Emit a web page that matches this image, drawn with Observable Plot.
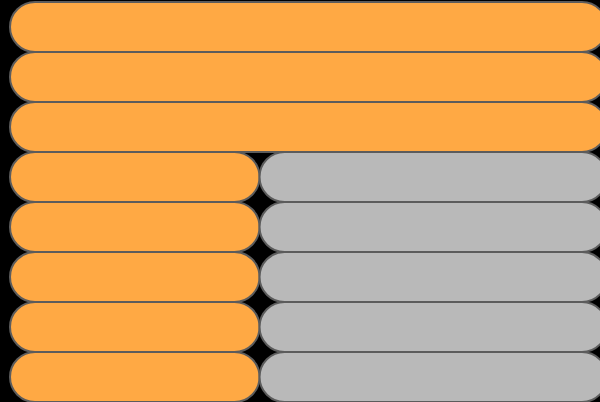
<!DOCTYPE html>
<html>
<head>
<meta charset="utf-8">
<script src="https://cdn.jsdelivr.net/npm/d3@7"></script>
<script src="https://cdn.jsdelivr.net/npm/@observablehq/plot@0.6"></script>
<style>
  html, body { margin: 0; padding: 0; background: #000; }
  #chart svg { display: block; }
</style>
</head>
<body>
<div id="chart"></div>
<script>
const rows = ["A", "B", "C", "D", "E", "F", "G", "H"];
const seriesNames = ["done", "remaining"];
const doneValues = [100, 100, 100, 41.8, 41.8, 41.8, 41.8, 41.8];
const remainingValues = [0, 0, 0, 58.2, 58.2, 58.2, 58.2, 58.2];
const seriesColors = ["#ffa944", "#b9b9b9"];

const data = [];
rows.forEach((r, i) => {
  if (doneValues[i] > 0) data.push({row: r, series: seriesNames[0], value: doneValues[i]});
  if (remainingValues[i] > 0) data.push({row: r, series: seriesNames[1], value: remainingValues[i]});
});

const chart = Plot.plot({
  width: 600,
  height: 402,
  marginLeft: 10,
  marginRight: -7,
  marginTop: 2,
  marginBottom: 0,
  style: {background: "#000", overflow: "hidden"},
  x: {domain: [0, 100], axis: null},
  y: {domain: rows, padding: 0, axis: null},
  color: {domain: seriesNames, range: seriesColors},
  marks: [
    Plot.barX(data, {
      y: "row",
      x: "value",
      fill: "series",
      order: seriesNames,
      stroke: "#5c5c5c",
      strokeWidth: 2,
      rx: 25,
      ry: 25,
      inset: 0
    })
  ]
});
document.getElementById("chart").appendChild(chart);
</script>
</body>
</html>
